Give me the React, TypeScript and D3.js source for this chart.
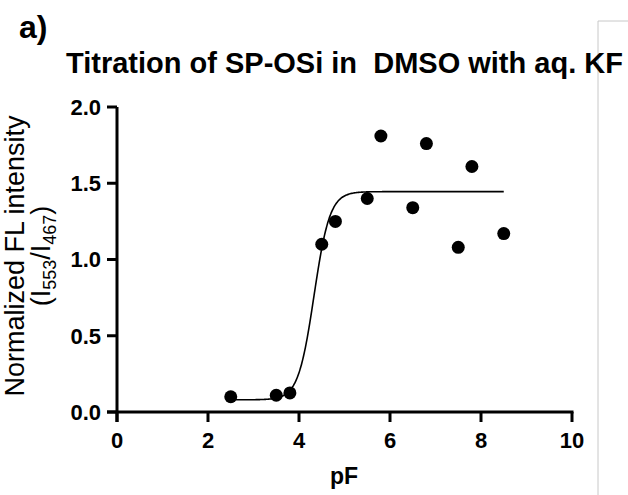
import React from "react";
import * as d3 from "d3";

const pF = [2.5, 3.5, 3.8, 4.5, 4.8, 5.5, 5.8, 6.5, 6.8, 7.5, 7.8, 8.5];
const intensity = [0.1, 0.11, 0.125, 1.1, 1.25, 1.4, 1.81, 1.34, 1.76, 1.08, 1.61, 1.17];
const xTicks = [0, 2, 4, 6, 8, 10];
const yTicks = [0, 0.5, 1.0, 1.5, 2.0];
// fitted sigmoidal (4PL) curve parameters
const fitBottom = 0.08;
const fitTop = 1.445;
const fitLogEC50 = 4.33;
const fitHill = 2.5;
const fitRange = [2.5, 8.5];

const W = 628;
const H = 495;

export default function App() {
  const x = d3.scaleLinear().domain([0, 10]).range([117, 572]);
  const y = d3.scaleLinear().domain([0, 2]).range([412, 107]);
  const fit = (v: number) => fitBottom + (fitTop - fitBottom) / (1 + Math.pow(10, (fitLogEC50 - v) * fitHill));
  const curvePts = d3.range(fitRange[0], fitRange[1] + 0.0001, 0.02).map((v) => [v, fit(v)] as [number, number]);
  const line = d3
    .line<[number, number]>()
    .x((d) => x(d[0]))
    .y((d) => y(d[1]))
    .curve(d3.curveMonotoneX);
  const font = "'Liberation Sans', Arial, sans-serif";
  const axisW = 3;
  const tick = 10;
  return (
    <svg width={W} height={H} style={{ position: "absolute", left: 0, top: 0, background: "#fff" }} fontFamily={font}>
      <rect x={0} y={0} width={W} height={H} fill="#fff" />
      <line x1={598} y1={21} x2={598} y2={H} stroke="#c8c8c8" strokeWidth={1} />
      <line x1={598} y1={21} x2={W} y2={21} stroke="#c8c8c8" strokeWidth={1} />
      <text x={19} y={38} fontSize={32} fontWeight="bold" fill="#000">a)</text>
      <text x={66} y={73} fontSize={29} fontWeight="bold" fill="#000" style={{ whiteSpace: "pre" }}>
        Titration of SP-OSi in  DMSO with aq. KF
      </text>
      {/* y axis */}
      <line x1={x(0)} y1={y(2)} x2={x(0)} y2={y(0) + tick} stroke="#000" strokeWidth={axisW} />
      {yTicks.map((t) => (
        <g key={"y" + t}>
          <line x1={x(0) - tick} x2={x(0)} y1={y(t)} y2={y(t)} stroke="#000" strokeWidth={axisW} />
          <text x={x(0) - 16} y={y(t)} dy="0.36em" textAnchor="end" fontSize={22} fontWeight="bold">
            {t.toFixed(1)}
          </text>
        </g>
      ))}
      {/* x axis */}
      <line x1={x(0) - tick} y1={y(0)} x2={x(10) + axisW / 2} y2={y(0)} stroke="#000" strokeWidth={axisW} />
      {xTicks.map((t) => (
        <g key={"x" + t}>
          <line x1={x(t)} x2={x(t)} y1={y(0)} y2={y(0) + tick} stroke="#000" strokeWidth={axisW} />
          <text x={x(t)} y={y(0) + 36} textAnchor="middle" fontSize={22} fontWeight="bold">
            {t}
          </text>
        </g>
      ))}
      <text x={344} y={484} textAnchor="middle" fontSize={23} fontWeight="bold">pF</text>
      <g transform="translate(24,256) rotate(-90)">
        <text x={0} y={0} textAnchor="middle" fontSize={27}>Normalized FL intensity</text>
        <text x={0} y={26} textAnchor="middle" fontSize={27}>
          (I<tspan fontSize={18} dy={6}>553</tspan>
          <tspan dy={-6}>/I</tspan>
          <tspan fontSize={18} dy={6}>467</tspan>
          <tspan dy={-6}>)</tspan>
        </text>
      </g>
      <path d={line(curvePts) || ""} fill="none" stroke="#000" strokeWidth={1.6} />
      {pF.map((v, i) => (
        <circle key={i} cx={x(v)} cy={y(intensity[i])} r={6.5} fill="#000" />
      ))}
    </svg>
  );
}
